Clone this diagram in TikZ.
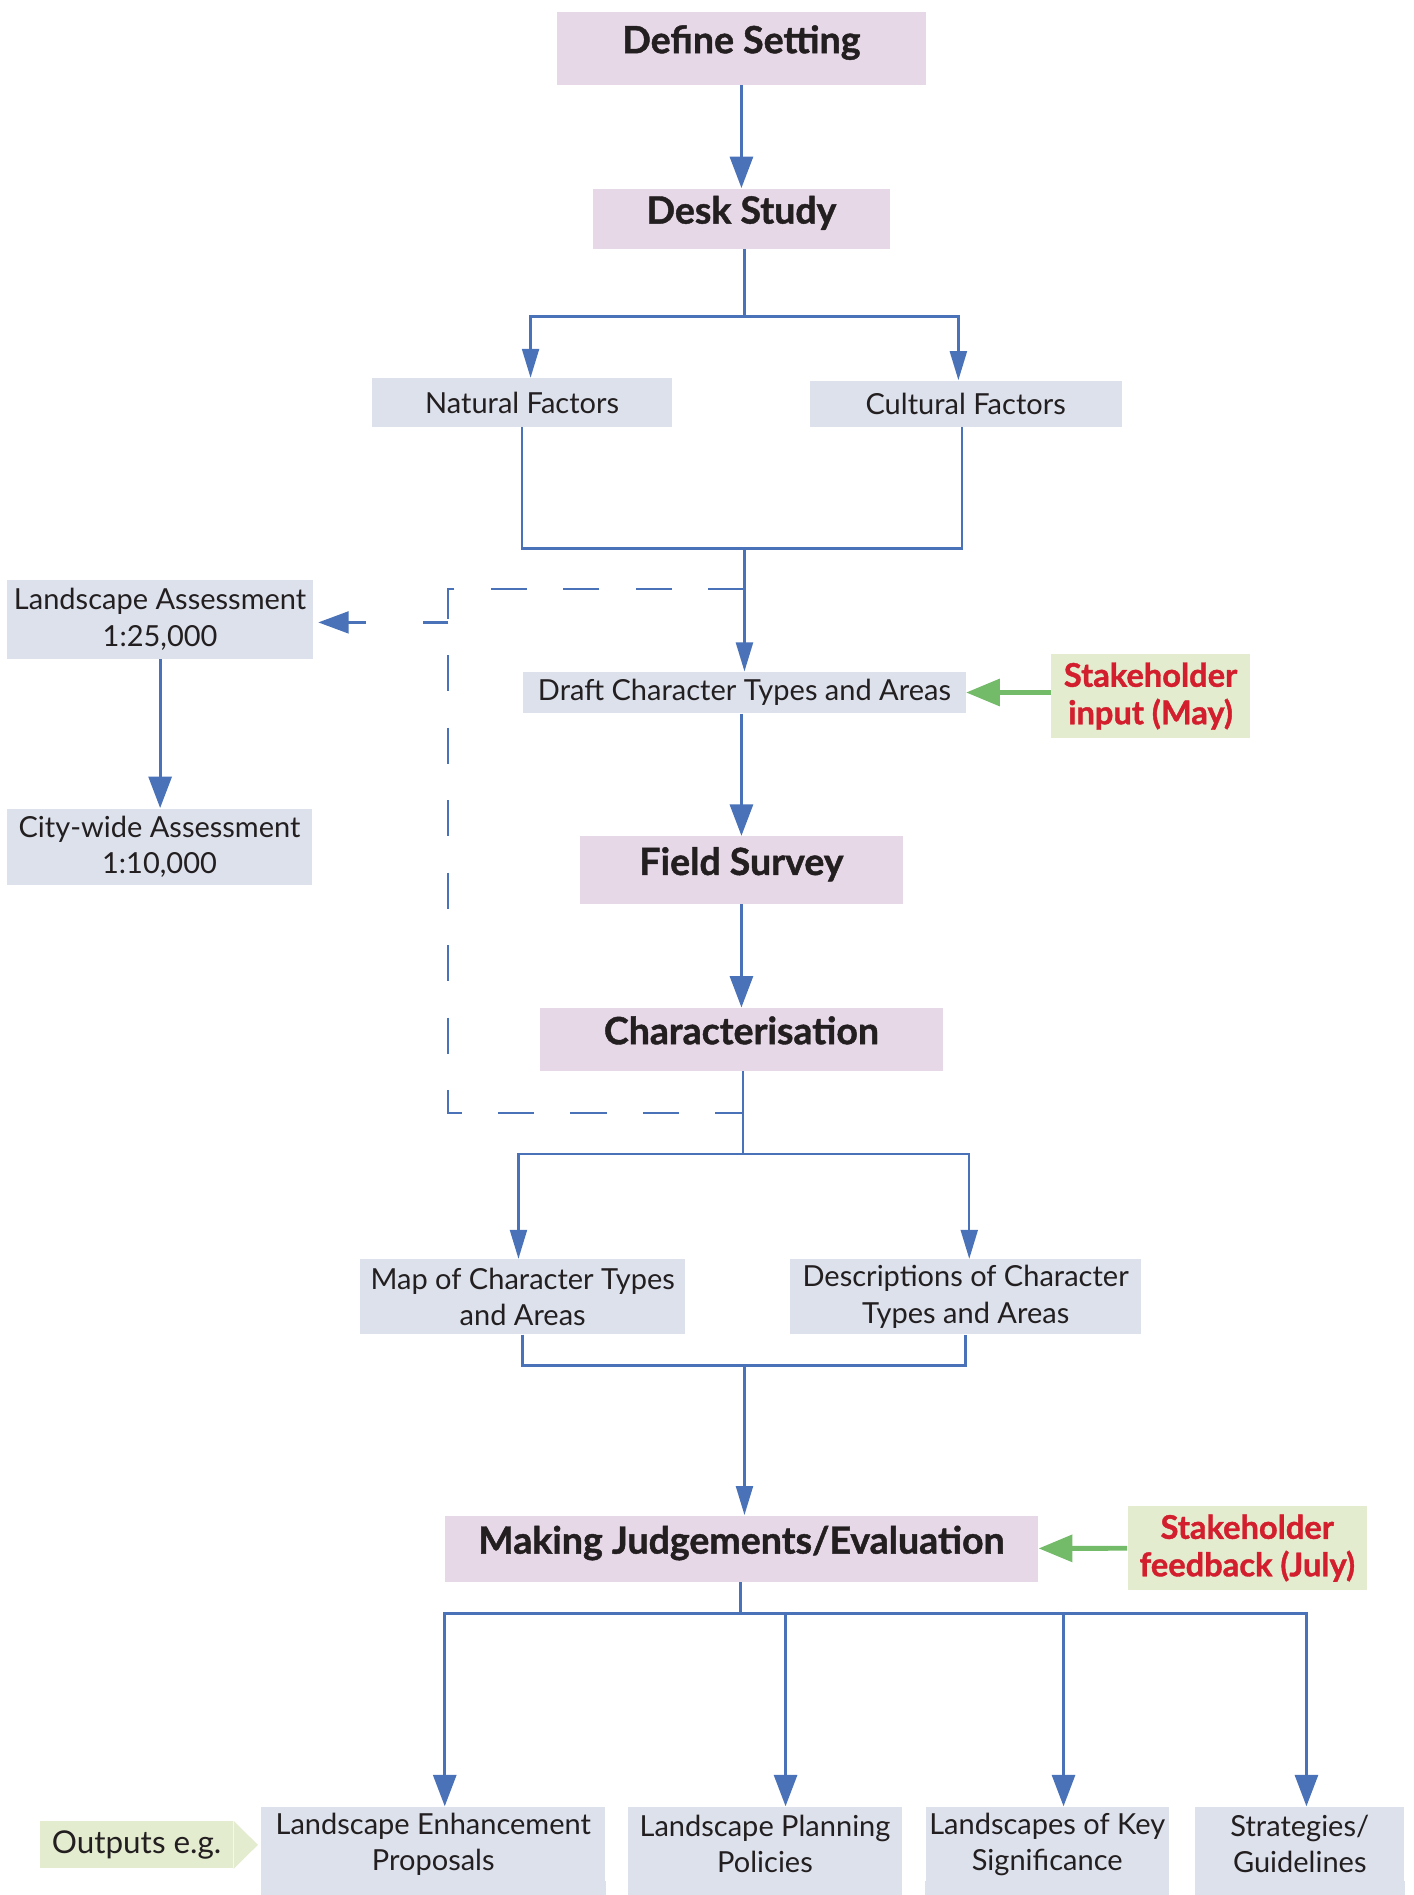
\documentclass[tikz,border=0pt]{standalone}
\usepackage{fontspec}
\setmainfont{Lato}[BoldFeatures={FakeBold=1.2}]
\usetikzlibrary{arrows.meta}

\definecolor{boxpink}{RGB}{231,216,232}
\definecolor{boxblue}{RGB}{220,225,236}
\definecolor{boxgreen}{RGB}{228,236,208}
\definecolor{lineblue}{RGB}{74,114,184}
\definecolor{arrowgreen}{RGB}{115,186,105}
\definecolor{textred}{RGB}{210,30,45}
\definecolor{textdark}{RGB}{35,31,32}

\tikzset{
  stage/.style={fill=boxpink, font=\bfseries\fontsize{15.5}{18}\selectfont, text height=11pt, text depth=7pt},
  factor/.style={fill=boxblue, font=\fontsize{12}{15}\selectfont},
  input/.style={fill=boxgreen, text=textred, font=\bfseries\fontsize{13.5}{15.5}\selectfont},
  thinline/.style={draw=lineblue, line width=1pt},
  thinarrow/.style={thinline, -{Triangle[width=7pt,length=12pt]}},
  thickline/.style={draw=lineblue, line width=1.3pt},
  thickarrow/.style={thickline, -{Triangle[width=9.5pt,length=13pt]}},
  greenarrow/.style={draw=arrowgreen, line width=2pt, -{Triangle[width=11pt,length=14pt]}},
  dashline/.style={draw=lineblue, line width=0.8pt, dash pattern=on 15pt off 15pt},
  dasharrow/.style={draw=lineblue, line width=1pt, dash pattern=on 10.5pt off 23.5pt on 40pt,
    -{Triangle[width=9pt,length=12.5pt]}, shorten >=2pt}
}

\begin{document}
\begin{tikzpicture}[x=0.5pt, y=-0.5pt,
    every node/.style={inner sep=0pt, align=center, text=textdark}]
  \useasboundingbox (0,0) rectangle (1170,1568);
  %Etapes
  \node[stage, minimum width=152.5pt, minimum height=30pt] (define) at (613.5,40) {Define Setting};
  \node[stage, minimum width=122.5pt, minimum height=25pt] (desk) at (613.5,181) {Desk Study};
  \node[stage, minimum width=133.5pt, minimum height=28pt] (field) at (613.5,720) {Field Survey};
  \node[stage, minimum width=166.5pt, minimum height=26pt] (char) at (613.5,860) {Characterisation};
  \node[stage, minimum width=245.5pt, minimum height=27.5pt] (making) at (613.5,1281.5) {Making Judgements/Evaluation};
  %Factors
  \node[factor, minimum width=124pt, minimum height=20pt] (natural) at (432,333) {Natural Factors};
  \node[factor, minimum width=129pt, minimum height=19pt] (cultural) at (799,334) {Cultural Factors};
  \node[factor, minimum width=183pt, minimum height=17pt] (draft) at (616,573) {Draft Character Types and Areas};
  \node[factor, minimum width=134.5pt, minimum height=31pt] (map) at (432.5,1073) {Map of Character Types\\and Areas};
  \node[factor, minimum width=145pt, minimum height=31pt] (descr) at (799,1073) {Descriptions of Character\\Types and Areas};
  \node[factor, minimum width=126.5pt, minimum height=32.5pt] (la) at (132.5,512.5) {Landscape Assessment\\1:25,000};
  \node[factor, minimum width=126pt, minimum height=31.5pt] (city) at (132,700.5) {City-wide Assessment\\1:10,000};
  %Stakeholders
  \node[input, minimum width=82pt, minimum height=35pt] (may) at (952,576) {Stakeholder\\input (May)};
  \node[input, minimum width=99pt, minimum height=35pt] (july) at (1032,1281) {Stakeholder\\feedback (July)};
  %Outputs
  \node[factor, minimum width=142.5pt, minimum height=31pt] (out1) at (358.5,1526) {Landscape Enhancement\\Proposals};
  \node[factor, minimum width=113pt, minimum height=31pt] (out2) at (633,1526) {Landscape Planning\\Policies};
  \node[factor, minimum width=100.5pt, minimum height=31pt] (out3) at (866.5,1526) {Landscapes of Key\\Significance};
  \node[factor, minimum width=86.5pt, minimum height=31pt] (out4) at (1075.5,1526) {Strategies/\\Guidelines};
  \foreach \o in {out1,out2,out3,out4}
    \fill[boxblue] ([yshift=0.5pt]\o.south west) rectangle ([yshift=-8pt]\o.south east);
  \node[fill=boxgreen, minimum width=80pt, minimum height=19.5pt, font=\fontsize{13}{15}\selectfont] (outputs) at (113,1526.5) {Outputs e.g.};
  \fill[boxgreen] (outputs.north east) -- ([xshift=10pt]outputs.east) -- (outputs.south east) -- cycle;

  %Connectors
  \draw[thickarrow] (define) -- (desk);
  \coordinate (split1) at (616,262);
  \draw[thinline] (desk.south -| split1) -- (split1);
  \draw[thinarrow] (split1) -| ([xshift=3.5pt]natural.north);
  \draw[thinarrow] (split1) -| ([xshift=-3pt]cultural.north);
  \coordinate (join1) at (616,454);
  \draw[thinline] (natural.south) |- (join1) -| ([xshift=-1.5pt]cultural.south);
  \draw[thinarrow] (join1) -- (draft.north);
  \draw[greenarrow] (may.west |- draft.east) -- (draft.east);
  \draw[thickarrow] (draft.south -| field.north) -- (field);
  \draw[thickarrow] (field) -- (char);
  \coordinate (split2) at (615,955);
  \draw[thinline] (char.south -| split2) -- (split2);
  \draw[thinarrow] (split2) -| ([xshift=-1.75pt]map.north);
  \draw[thinarrow] (split2) -| ([xshift=1.5pt]descr.north);
  \coordinate (join2) at (616,1130);
  \draw[thinline] (map.south) |- (join2) -| (descr.south);
  \draw[thinarrow] (join2) -- (join2 |- making.north);
  \draw[greenarrow] (july) -- (making);
  \coordinate (split3) at (613,1335);
  \draw[thickline] (making.south -| split3) -- (split3);
  \draw[thickarrow] (split3) -| ([xshift=4.75pt]out1.north);
  \draw[thickarrow] (split3) -| ([xshift=8.5pt]out2.north);
  \draw[thickarrow] (split3) -| ([xshift=6.75pt]out3.north);
  \draw[thickarrow] (split3) -| ([xshift=2.75pt]out4.north);
  \draw[thickarrow] (la.south) -- (la.south |- city.north);

  %Retorn discontinu
  \coordinate (dtop) at (616,487);
  \coordinate (dleft) at (371,487);
  \coordinate (dbottom) at (371,921);
  \coordinate (dend) at (615,921);
  \coordinate (dbranch) at (371,515);
  \draw[dashline] (dtop) -- (dleft) -- (dbottom) -- (dend);
  \draw[dasharrow] (dbranch) -- (dbranch -| la.east);
\end{tikzpicture}
\end{document}
